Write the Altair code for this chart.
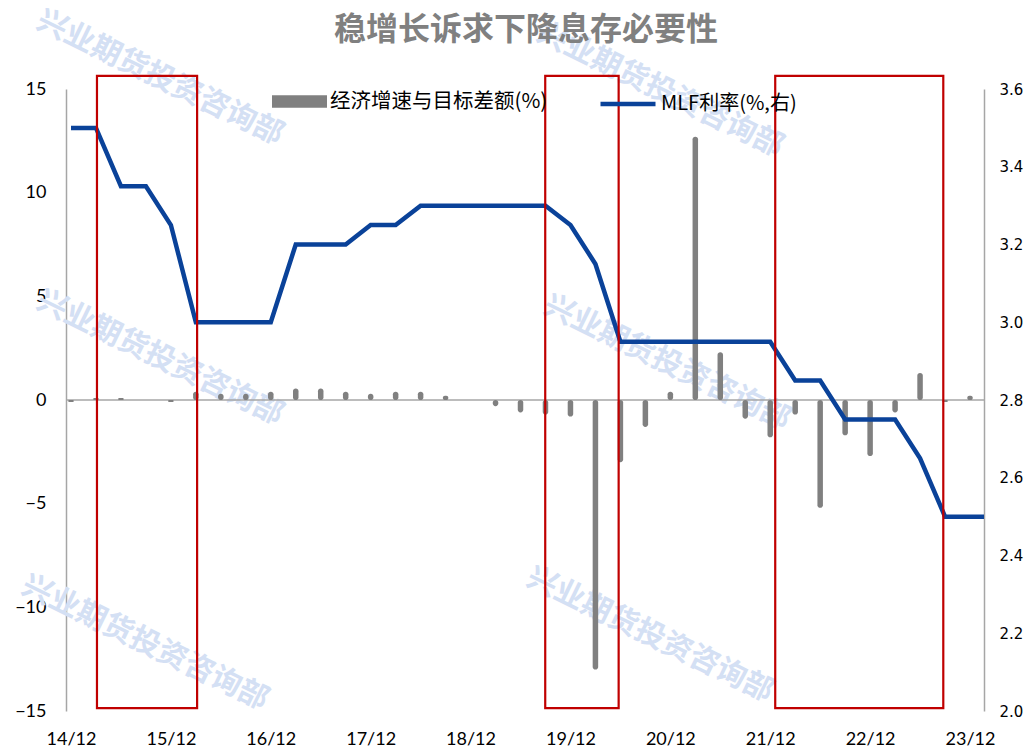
import altair as alt
import pandas as pd

# ---------------- data ----------------
quarters = ["14/12", "15/03", "15/06", "15/09", "15/12", "16/03", "16/06", "16/09",
            "16/12", "17/03", "17/06", "17/09", "17/12", "18/03", "18/06", "18/09",
            "18/12", "19/03", "19/06", "19/09", "19/12", "20/03", "20/06", "20/09",
            "20/12", "21/03", "21/06", "21/09", "21/12", "22/03", "22/06", "22/09",
            "22/12", "23/03", "23/06", "23/09", "23/12", "24/03"]

gap = [-0.1, 0.1, 0.1, 0.0, -0.1, 0.4, 0.3, 0.3, 0.4, 0.55, 0.55, 0.4, 0.3, 0.4,
       0.4, 0.2, 0.0, -0.3, -0.6, -0.7, -0.8, -13.0, -3.0, -1.3, 0.4, 12.7, 2.3,
       -0.9, -1.8, -0.7, -5.2, -1.7, -2.7, -0.6, 1.3, -0.1, 0.2]

mlf = [3.5, 3.5, 3.35, 3.35, 3.25, 3.0, 3.0, 3.0, 3.0, 3.2, 3.2, 3.2, 3.25, 3.25,
       3.3, 3.3, 3.3, 3.3, 3.3, 3.3, 3.25, 3.15, 2.95, 2.95, 2.95, 2.95, 2.95, 2.95,
       2.95, 2.85, 2.85, 2.75, 2.75, 2.75, 2.65, 2.5, 2.5, 2.5]

year_labels = ["14/12", "15/12", "16/12", "17/12", "18/12", "19/12", "20/12",
               "21/12", "22/12", "23/12"]

# highlighted periods (quarter index start/end, left-axis value top/bottom)
box_x1 = [1.04, 18.99, 28.2]
box_x2 = [5.05, 21.93, 34.93]
box_top = [15.63, 15.63, 15.63]
box_bottom = [-14.86, -14.86, -14.86]

title_text = "稳增长诉求下降息存必要性"
bar_name = "经济增速与目标差额(%)"
line_name = "MLF利率(%,右)"
watermark = "兴业期货投资咨询部"

# ---------------- frames ----------------
bars_df = pd.DataFrame({"i": list(range(len(gap))), "q": quarters[:len(gap)],
                        "gap": gap, "s": bar_name})
line_df = pd.DataFrame({"i": list(range(len(mlf))), "q": quarters[:len(mlf)],
                        "mlf": mlf, "s": line_name})
box_df = pd.DataFrame({"x1": box_x1, "x2": box_x2, "y1": box_top, "y2": box_bottom})
zero_df = pd.DataFrame({"y": [0]})
title_df = pd.DataFrame({"t": [title_text]})

W, H = 918, 622
XDOM = [0, 36.36]
label_expr = "[" + ",".join("'%s'" % s for s in year_labels) + "][round(datum.value/4)]"

x_enc = alt.X("i:Q", scale=alt.Scale(domain=XDOM, nice=False, zero=False),
              axis=alt.Axis(values=list(range(0, 37, 4)), labelExpr=label_expr,
                            domain=False, ticks=False, grid=False, title=None,
                            labelFlush=False, labelOverlap=False,
                            labelFont="Lato", labelFontSize=18,
                            labelColor="#000000", labelPadding=19))

left_scale = alt.Scale(domain=[-15, 15], nice=False, zero=False)

# watermark texts (behind everything)
wm_pos = [(94, -11), (594, 1), (94, 269), (601, 274), (79, 554), (584, 546)]
wm_layers = [
    alt.Chart(zero_df).mark_text(text=watermark, angle=26, fontSize=30,
                                 fontWeight="bold", font="Noto Sans CJK SC",
                                 color="#D4E0F4", align="center", baseline="middle")
    .encode(x=alt.value(px), y=alt.value(py))
    for px, py in wm_pos
]

title_mark = alt.Chart(title_df).mark_text(
    font="Noto Sans CJK SC", fontSize=32, fontWeight="bold", color="#808080",
    align="center", baseline="middle"
).encode(text="t:N", x=alt.value(460), y=alt.value(-59))

zero_rule = alt.Chart(zero_df).mark_rule(color="#A6A6A6", strokeWidth=1.5).encode(
    y=alt.Y("y:Q", scale=left_scale))

bars = alt.Chart(bars_df).mark_bar(size=5.5, cornerRadius=2.6).encode(
    x=x_enc,
    y=alt.Y("gap:Q", scale=left_scale,
            axis=alt.Axis(values=[-15, -10, -5, 0, 5, 10, 15], orient="left",
                          ticks=False, grid=False, title=None,
                          domainColor="#A6A6A6", domainWidth=1.5,
                          labelFont="Lato", labelFontSize=18,
                          labelColor="#000000", labelPadding=20)),
    y2=alt.datum(0),
    color=alt.Color("s:N", scale=alt.Scale(range=["#808080"]),
                    legend=alt.Legend(title=None, orient="none", legendX=206,
                                      legendY=-15,
                                      symbolType="M-1,-0.23L1,-0.23L1,0.23L-1,0.23Z",
                                      symbolSize=3025, symbolStrokeWidth=0,
                                      symbolFillColor="#808080",
                                      labelFont="Noto Sans CJK SC", labelFontSize=20.5,
                                      labelColor="#000000", labelOffset=3,
                                      labelLimit=400)),
)

bar_layer = alt.layer(*wm_layers, title_mark, zero_rule, bars)

line = alt.Chart(line_df).mark_line(strokeWidth=4.5, clip=True).encode(
    x=alt.X("i:Q", scale=alt.Scale(domain=XDOM, nice=False, zero=False)),
    y=alt.Y("mlf:Q", scale=alt.Scale(domain=[2.0, 3.6], nice=False, zero=False),
            axis=alt.Axis(values=[2.0, 2.2, 2.4, 2.6, 2.8, 3.0, 3.2, 3.4, 3.6],
                          format=".1f", orient="right", ticks=False, grid=False,
                          title=None, domainColor="#A6A6A6", domainWidth=1.5,
                          labelFont="DejaVu Sans", labelFontSize=15,
                          labelColor="#000000", labelPadding=15)),
    color=alt.Color("s:N", scale=alt.Scale(range=["#0A4299"]),
                    legend=alt.Legend(title=None, orient="none", legendX=532,
                                      legendY=-15, symbolType="stroke",
                                      symbolSize=3025, symbolStrokeWidth=4.5,
                                      labelFont="Noto Sans CJK SC", labelFontSize=20,
                                      labelColor="#000000", labelOffset=3,
                                      labelLimit=400)),
)

boxes = alt.Chart(box_df).mark_rect(fill=None, stroke="#C00000", strokeWidth=2.2).encode(
    x=alt.X("x1:Q", scale=alt.Scale(domain=XDOM, nice=False, zero=False)),
    x2="x2:Q",
    y=alt.Y("y1:Q", scale=alt.Scale(domain=[-15, 15], nice=False, zero=False), axis=None),
    y2="y2:Q",
)

chart = alt.layer(bar_layer, line, boxes).resolve_scale(
    y="independent", color="independent"
).properties(
    width=W, height=H,
    autosize=alt.AutoSizeParams(type="none"),
    padding={"left": 58, "top": 81, "right": 41, "bottom": 39},
).configure_view(stroke=None)

chart.save("out.html", embed_options={"renderer": "svg", "actions": False})
